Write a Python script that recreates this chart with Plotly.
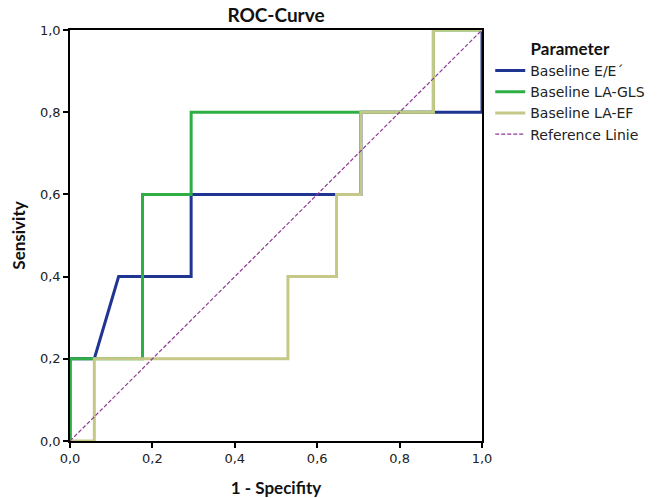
import plotly.graph_objects as go

# Data (1 - specificity, sensitivity)
ee_x = [0.0, 0.0, 0.059, 0.118, 0.294, 0.294, 0.706, 0.706, 1.0, 1.0]
ee_y = [0.0, 0.2, 0.2, 0.4, 0.4, 0.6, 0.6, 0.8, 0.8, 1.0]

gls_x = [0.0, 0.0, 0.176, 0.176, 0.294, 0.294, 0.882, 0.882, 1.0]
gls_y = [0.0, 0.2, 0.2, 0.6, 0.6, 0.8, 0.8, 1.0, 1.0]

ef_x = [0.0, 0.059, 0.059, 0.529, 0.529, 0.647, 0.647, 0.706, 0.706, 0.882, 0.882, 1.0]
ef_y = [0.0, 0.0, 0.2, 0.2, 0.4, 0.4, 0.6, 0.6, 0.8, 0.8, 1.0, 1.0]

ref_x = [0.0, 1.0]
ref_y = [0.0, 1.0]

tick_vals = [0.0, 0.2, 0.4, 0.6, 0.8, 1.0]
tick_text = ["0,0", "0,2", "0,4", "0,6", "0,8", "1,0"]

TFONT = "Lato, 'DejaVu Sans', sans-serif"
WFONT = "'DejaVu Sans', sans-serif"

fig = go.Figure()
fig.add_trace(go.Scatter(x=ee_x, y=ee_y, mode="lines", name="Baseline E/E´",
                         line=dict(color="#1f3592", width=3)))
fig.add_trace(go.Scatter(x=gls_x, y=gls_y, mode="lines", name="Baseline LA-GLS",
                         line=dict(color="#2eae45", width=3)))
fig.add_trace(go.Scatter(x=ef_x, y=ef_y, mode="lines", name="Baseline LA-EF",
                         line=dict(color="#c6c888", width=3)))
fig.add_trace(go.Scatter(x=ref_x, y=ref_y, mode="lines", name="Reference Linie",
                         line=dict(color="#8e3a96", width=1.2, dash="4px,2px")))

axis_common = dict(
    range=[0, 1], tickvals=tick_vals, ticktext=tick_text,
    showgrid=False, zeroline=False, showline=True, linecolor="black", linewidth=1.5,
    mirror=True, ticks="outside", ticklen=5, tickcolor="black", tickwidth=1.5,
    tickfont=dict(family=WFONT, size=13, color="#222"),
)

fig.update_layout(
    width=657, height=498,
    margin=dict(l=70, r=175, t=30, b=57, autoexpand=False),
    paper_bgcolor="white", plot_bgcolor="white",
    title=dict(text="<b>ROC-Curve</b>", x=(70 + 206) / 657, xanchor="center",
               y=1 - 15 / 498, yanchor="middle",
               font=dict(family=TFONT, size=19, color="#111")),
    xaxis=dict(**axis_common,
               title=dict(text="<b>1 - Specifity</b>", font=dict(family=TFONT, size=17, color="#111"),
                          standoff=18)),
    yaxis=dict(**axis_common,
               title=dict(text="<b>Sensivity</b>", font=dict(family=TFONT, size=17, color="#111"),
                          standoff=10)),
    legend=dict(
        x=1.02, y=0.993, xanchor="left", yanchor="top",
        title=dict(text="<b>Parameter</b>", side="top center",
                   font=dict(family=TFONT, size=17, color="#111")),
        font=dict(family=WFONT, size=14, color="#222"),
        itemwidth=30, tracegroupgap=0, bgcolor="rgba(0,0,0,0)",
    ),
    showlegend=True,
)

fig.write_html("out.html")
